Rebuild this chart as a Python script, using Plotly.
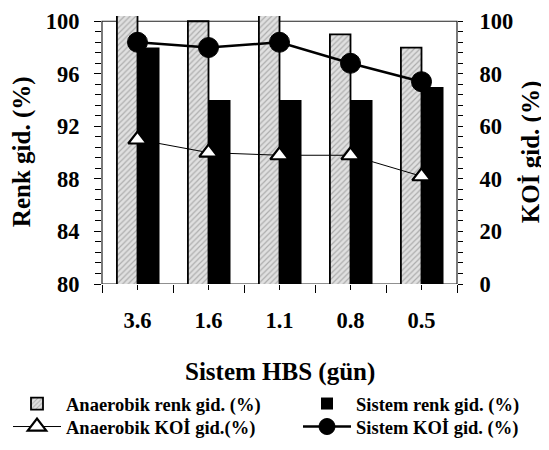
import plotly.graph_objects as go

categories = ["3.6", "1.6", "1.1", "0.8", "0.5"]
anaerobik_renk = [100.5, 100, 100.5, 99, 98]
sistem_renk = [98, 94, 94, 94, 95]
anaerobik_koi = [55, 50, 49, 49, 41]
sistem_koi = [92, 90, 92, 84, 77]
left_ticks = [80, 84, 88, 92, 96, 100]
right_ticks = [0, 20, 40, 60, 80, 100]

# The page body has an 8px default margin: size and place the figure so that
# the photographed window (549x450) matches the reference.
OFF = 8
W, H = 541, 434
Y_TOP, Y_BOT = 21, 284          # window y of value 100 and of value 80
Y_MAX = 100.4                   # small headroom so bars above 100 show
UNIT = (Y_BOT - Y_TOP) / 20.0
ML = 102 - OFF
MT = Y_TOP - (Y_MAX - 100) * UNIT - OFF
MR = W - (457 - OFF)
MB = H - (Y_BOT - OFF)
PW, PH = W - ML - MR, H - MT - MB

FONT = "Liberation Serif, Times New Roman, serif"
TICKF = dict(family=FONT, size=22.5, color="black", weight="bold")
TITLEF = dict(family=FONT, size=25, color="black", weight="bold")
LFONT = dict(family=FONT, size=18.5, color="black", weight="bold")


def px_x(px):
    return (px - OFF - ML) / PW


def px_y(py):
    return (H - MB - (py - OFF)) / PH


fig = go.Figure()
fig.add_trace(go.Bar(
    x=categories, y=anaerobik_renk, name="Anaerobik renk gid. (%)",
    offset=-0.29, width=0.29, legend="legend",
    marker=dict(color="#d0d0d0", line=dict(color="black", width=1.8),
                pattern=dict(shape="/", size=4, solidity=0.3,
                             fgcolor="#7a7a7a", bgcolor="#e0e0e0")),
))
fig.add_trace(go.Bar(
    x=categories, y=sistem_renk, name="Sistem renk gid. (%)",
    offset=0, width=0.31, legend="legend2",
    marker=dict(color="black", line=dict(color="black", width=0)),
))
fig.add_trace(go.Scatter(
    x=categories, y=anaerobik_koi, name="Anaerobik KOİ gid.(%)",
    xaxis="x2", yaxis="y2", mode="lines+markers", legend="legend3",
    line=dict(color="black", width=1),
    marker=dict(symbol="triangle-up", size=16, color="white",
                line=dict(color="black", width=2.2)),
))
fig.add_trace(go.Scatter(
    x=categories, y=sistem_koi, name="Sistem KOİ gid. (%)",
    xaxis="x2", yaxis="y2", mode="lines+markers", legend="legend4",
    line=dict(color="black", width=2.5),
    marker=dict(symbol="circle", size=20, color="black",
                line=dict(color="black", width=1)),
))


def leg(px_text, py):
    # px_text: window x where the legend text starts; py: window y of the row
    return dict(x=max(0.0, (px_text - OFF - 60) / W), y=1 - (py - OFF) / H,
                xref="container", yref="container", xanchor="left",
                yanchor="middle", itemwidth=48,
                font=LFONT, bgcolor="rgba(0,0,0,0)", borderwidth=0)


fig.update_layout(
    width=W, height=H,
    margin=dict(l=ML, r=MR, t=MT, b=MB, autoexpand=False),
    plot_bgcolor="white", paper_bgcolor="white",
    font=TICKF,
    barmode="overlay",
    showlegend=True,
    legend=leg(68, 404),
    legend2=leg(358, 404),
    legend3=leg(68, 427),
    legend4=leg(358, 427),
    xaxis=dict(type="category", categoryorder="array", categoryarray=categories,
               tickson="boundaries", ticks="outside", ticklen=8, tickcolor="black",
               showgrid=False, showline=False, zeroline=False, automargin=False,
               ticklabelstandoff=20, tickfont=TICKF, ticklabeloverflow="allow"),
    xaxis2=dict(type="category", categoryorder="array", categoryarray=categories,
                overlaying="x", matches="x", anchor="y", side="bottom",
                ticks="outside", ticklen=5, tickcolor="black", automargin=False,
                showticklabels=False, showgrid=False, showline=False, zeroline=False),
    yaxis=dict(range=[80, Y_MAX], tickvals=left_ticks, ticks="outside", ticklen=7,
               tickcolor="black", ticklabelstandoff=10, automargin=False,
               tickfont=TICKF, ticklabeloverflow="allow",
               minor=dict(tickmode="linear", tick0=80, dtick=0.8, ticks="outside",
                          ticklen=6, tickcolor="black"),
               showgrid=False, showline=False, zeroline=False),
    yaxis2=dict(range=[0, (Y_MAX - 80) * 5], tickvals=right_ticks, overlaying="y",
                side="right", anchor="x2", ticks="outside", ticklen=5,
                tickcolor="black", ticklabelstandoff=12, automargin=False,
                tickfont=TICKF, ticklabeloverflow="allow",
                minor=dict(tickmode="linear", tick0=0, dtick=4, ticks="outside",
                           ticklen=5, tickcolor="black"),
                showgrid=False, showline=False, zeroline=False),
    shapes=[dict(type="rect", xref="paper", x0=0, x1=1, yref="y", y0=80, y1=100,
                 line=dict(color="#222", width=1.2), layer="below")],
    annotations=[
        dict(text="Renk gid. (%)", textangle=-90, xref="paper", yref="paper",
             x=px_x(22), y=px_y(152), xanchor="center", yanchor="middle",
             showarrow=False, font=TITLEF),
        dict(text="KOİ gid. (%)", textangle=-90, xref="paper", yref="paper",
             x=px_x(531), y=px_y(152), xanchor="center", yanchor="middle",
             showarrow=False, font=TITLEF),
        dict(text="Sistem HBS (gün)", xref="paper", yref="paper",
             x=0.5, y=px_y(372), xanchor="center", yanchor="middle",
             showarrow=False, font=TITLEF),
    ],
)

fig.write_html("out.html")
